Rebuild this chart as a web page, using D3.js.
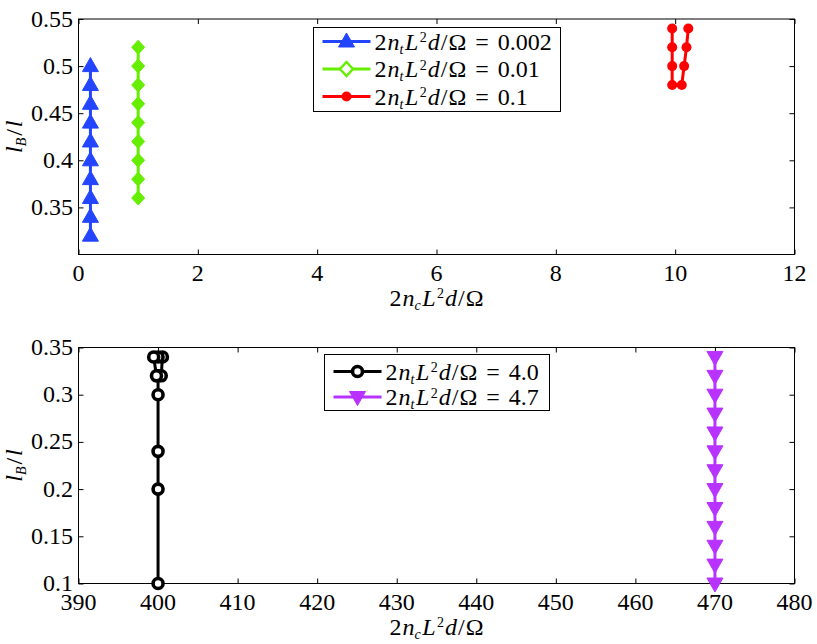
<!DOCTYPE html>
<html>
<head>
<meta charset="utf-8">
<script src="https://cdn.jsdelivr.net/npm/d3@7"></script>
<style>
  body { margin: 0; background: #fff; }
</style>
</head>
<body>
<script>
'use strict';

// ---- top panel data ----
var topLegend = ["0.002", "0.01", "0.1"];
var blueX = [0.2, 0.2, 0.2, 0.2, 0.2, 0.2, 0.2, 0.2, 0.2, 0.2];
var blueY = [0.32, 0.34, 0.36, 0.38, 0.40, 0.42, 0.44, 0.46, 0.48, 0.50];
var greenX = [1, 1, 1, 1, 1, 1, 1, 1, 1];
var greenY = [0.36, 0.38, 0.40, 0.42, 0.44, 0.46, 0.48, 0.50, 0.52];
var redX = [9.95, 9.95, 9.95, 9.95, 10.11, 10.15, 10.19, 10.22];
var redY = [0.54, 0.52, 0.50, 0.48, 0.48, 0.50, 0.52, 0.54];
var topXTicks = [0, 2, 4, 6, 8, 10, 12];
var topYTicks = [0.35, 0.4, 0.45, 0.5, 0.55];

// ---- bottom panel data ----
var botLegend = ["4.0", "4.7"];
var blackX = [400, 400, 400, 400, 400, 400.4, 400.55, 400, 399.45, 399.8];
var blackY = [0.10, 0.20, 0.24, 0.30, 0.32, 0.32, 0.34, 0.34, 0.34, 0.32];
var purpleX = [470, 470, 470, 470, 470, 470, 470, 470, 470, 470, 470, 470, 470];
var purpleY = [0.34, 0.32, 0.30, 0.28, 0.26, 0.24, 0.22, 0.20, 0.18, 0.16, 0.14, 0.12, 0.10];
var botXTicks = [390, 400, 410, 420, 430, 440, 450, 460, 470, 480];
var botYTicks = [0.1, 0.15, 0.2, 0.25, 0.3, 0.35];

var width = 817, height = 644;
var FONT = "'Liberation Serif'";

// widths come from a canvas so the svg text never has to be laid out early
var mctx = document.createElement("canvas").getContext("2d");
function measure(str, size, italic) {
    mctx.font = (italic ? "italic " : "") + size + "px " + FONT;
    return mctx.measureText(str).width;
}

// every label is queued here and written out after the graphics
var labels = [];
function queue(s, x, y, size, it, transform) {
    labels.push({ s: s, x: x, y: y, size: size, it: !!it, transform: transform || null });
}

var svg = d3.select("body").append("svg")
    .attr("width", width)
    .attr("height", height);

var markers = {
    triUp: "M0,-8.5L8,5.5L-8,5.5Z",
    triDown: "M0,8.5L8,-5.5L-8,-5.5Z",
    diamond: "M0,-7L6.5,0L0,7L-6.5,0Z"
};

function drawMarker(g, kind, color, cx, cy, hollow) {
    if (kind === "circle") {
        g.append("circle").attr("cx", cx).attr("cy", cy).attr("r", 5)
            .attr("fill", color).attr("stroke", "none");
    } else if (kind === "ring") {
        g.append("circle").attr("cx", cx).attr("cy", cy).attr("r", 5)
            .attr("fill", "#fff").attr("stroke", color).attr("stroke-width", 3.6);
    } else if (kind === "diamond") {
        g.append("path").attr("d", markers.diamond)
            .attr("transform", "translate(" + cx + "," + cy + ")")
            .attr("fill", hollow ? "#fff" : color).attr("stroke", color)
            .attr("stroke-width", hollow ? 2.5 : 1);
    } else {
        g.append("path").attr("d", markers[kind])
            .attr("transform", "translate(" + cx + "," + cy + ")")
            .attr("fill", color).attr("stroke", color).attr("stroke-width", 1);
    }
}

// LaTeX-ish expression, one text element per piece
function mathRow(parts, x, y, align, transform) {
    var items = [];
    var cursor = 0;
    parts.forEach(function(p) {
        var off = p.pos === "sub" ? 4 : (p.pos === "sup" ? -7.5 : 0);
        var size = p.pos ? 14 : 24;
        cursor += p.dx || 0;
        items.push({ p: p, at: cursor, off: off, size: size });
        cursor += measure(p.s, size, p.it);
    });
    var start = align === "middle" ? -cursor / 2 : 0;
    items.forEach(function(it) {
        if (transform) {
            queue(it.p.s, start + it.at, it.off, it.size, it.p.it, transform);
        } else {
            queue(it.p.s, x + start + it.at, y + it.off, it.size, it.p.it);
        }
    });
}

function ratioParts(sub) {
    return [
        { s: "2" },
        { s: "n", it: true, dx: 1 },
        { s: sub, it: true, pos: "sub" },
        { s: "L", it: true, dx: 1.5 },
        { s: "2", pos: "sup", dx: 1.5 },
        { s: "d", it: true, dx: 1 },
        { s: "/", dx: 1 },
        { s: "Ω", dx: 1 }
    ];
}

var yLabelParts = [
    { s: "l", it: true },
    { s: "B", it: true, pos: "sub" },
    { s: "/", dx: 2 },
    { s: "l", it: true, dx: 2 }
];

function drawPanel(cfg) {
    var g = svg.append("g");
    var x = d3.scaleLinear().domain(cfg.xDomain).range([78.5, 794.5]);
    var y = d3.scaleLinear().domain(cfg.yDomain).range([cfg.bottom, cfg.top]);

    var bx = g.append("g").attr("transform", "translate(0," + cfg.bottom + ")")
        .call(d3.axisBottom(x).tickValues(cfg.xTicks).tickSize(-5).tickSizeOuter(0).tickFormat(""));
    var tx = g.append("g").attr("transform", "translate(0," + cfg.top + ")")
        .call(d3.axisTop(x).tickValues(cfg.xTicks).tickSize(-5).tickSizeOuter(0).tickFormat(""));
    var ly = g.append("g").attr("transform", "translate(78.5,0)")
        .call(d3.axisLeft(y).tickValues(cfg.yTicks).tickSize(-5).tickSizeOuter(0).tickFormat(""));
    var ry = g.append("g").attr("transform", "translate(794.5,0)")
        .call(d3.axisRight(y).tickValues(cfg.yTicks).tickSize(-5).tickSizeOuter(0).tickFormat(""));

    [bx, tx, ly, ry].forEach(function(a) {
        a.select(".domain").remove();
        a.selectAll("text").remove();
        a.selectAll(".tick line").attr("stroke", "#000");
    });

    g.append("rect")
        .attr("x", 78.5).attr("y", cfg.top)
        .attr("width", 716).attr("height", cfg.bottom - cfg.top)
        .attr("fill", "none").attr("stroke", "#000").attr("stroke-width", 1);

    var line = d3.line()
        .x(function(d) { return x(d[0]); })
        .y(function(d) { return y(d[1]); });

    cfg.series.forEach(function(s) {
        var pts = d3.zip(s.x, s.y);
        g.append("path").datum(pts)
            .attr("d", line)
            .attr("fill", "none")
            .attr("stroke", s.color)
            .attr("stroke-width", 3)
            .attr("stroke-linejoin", "round");
        var mg = g.append("g");
        pts.forEach(function(p) {
            drawMarker(mg, s.marker, s.color, x(p[0]), y(p[1]), false);
        });
    });

    // legend box and samples
    var L = cfg.legend;
    g.append("rect")
        .attr("x", L.x).attr("y", L.y).attr("width", L.w).attr("height", L.h)
        .attr("fill", "#fff").attr("stroke", "#000").attr("stroke-width", 1);
    cfg.series.forEach(function(s, i) {
        var cy = L.row0 + i * L.step;
        g.append("line")
            .attr("x1", L.x + 9).attr("x2", L.x + 57)
            .attr("y1", cy).attr("y2", cy)
            .attr("stroke", s.color).attr("stroke-width", 3);
        drawMarker(g, s.marker, s.color, L.x + 33, cy, true);
        var parts = ratioParts("t").concat([
            { s: "=", dx: 9 },
            { s: s.label, dx: 9 }
        ]);
        mathRow(parts, L.x + 61, cy + 8, "start");
    });

    // tick labels placed with the scales
    cfg.xTicks.forEach(function(d) {
        var s = String(d);
        queue(s, x(d) - measure(s, 24) / 2, cfg.bottom + 26, 24);
    });
    cfg.yTicks.forEach(function(d) {
        var s = String(d);
        queue(s, 73 - measure(s, 24), y(d) + 7.5, 24);
    });

    // axis titles
    mathRow(ratioParts("c"), 436.5, cfg.bottom + 51, "middle");
    mathRow(yLabelParts, 0, 0, "middle",
        "translate(22," + ((cfg.top + cfg.bottom) / 2) + ") rotate(-90)");
}

drawPanel({
    top: 19, bottom: 254.5,
    xDomain: [0, 12], yDomain: [0.3, 0.55],
    xTicks: topXTicks, yTicks: topYTicks,
    series: [
        { x: blueX, y: blueY, color: "#2345ff", marker: "triUp", label: topLegend[0] },
        { x: greenX, y: greenY, color: "#66ee00", marker: "diamond", label: topLegend[1] },
        { x: redX, y: redY, color: "#ff0000", marker: "circle", label: topLegend[2] }
    ],
    legend: { x: 313.5, y: 27.5, w: 247, h: 84, row0: 41.5, step: 27.5 }
});

drawPanel({
    top: 347.5, bottom: 583.5,
    xDomain: [390, 480], yDomain: [0.1, 0.35],
    xTicks: botXTicks, yTicks: botYTicks,
    series: [
        { x: blackX, y: blackY, color: "#000000", marker: "ring", label: botLegend[0] },
        { x: purpleX, y: purpleY, color: "#b833ff", marker: "triDown", label: botLegend[1] }
    ],
    legend: { x: 324.5, y: 354.5, w: 225, h: 56, row0: 371.5, step: 25.5 }
});

// write all labels last, straight onto the svg
labels.forEach(function(d) {
    var t = svg.append("text")
        .attr("x", d.x)
        .attr("y", d.y)
        .style("font-family", FONT)
        .attr("font-size", d.size)
        .text(d.s);
    if (d.it) t.style("font-style", "italic");
    if (d.transform) t.attr("transform", d.transform);
});
</script>
</body>
</html>
